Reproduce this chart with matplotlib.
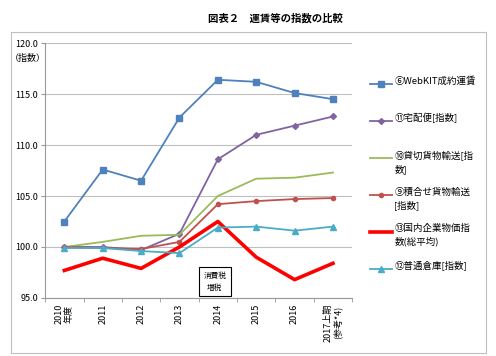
import matplotlib
matplotlib.use("Agg")
import matplotlib.pyplot as plt
from matplotlib.lines import Line2D
from matplotlib.patches import Rectangle

plt.rcParams['font.family'] = ['Noto Sans CJK JP', 'DejaVu Sans']

# -------------------------
# Data
# -------------------------
categories = ["2010\n年度", "2011", "2012", "2013", "2014", "2015", "2016", "2017上期\n(参考*4)"]
webkit = [102.5, 107.6, 106.5, 112.7, 116.4, 116.2, 115.1, 114.5]
takuhai = [100.0, 100.0, 99.7, 101.3, 108.6, 111.0, 111.9, 112.8]
kashikiri = [100.0, 100.5, 101.1, 101.2, 105.0, 106.7, 106.8, 107.3]
tsumiawase = [100.0, 99.9, 99.8, 100.5, 104.2, 104.5, 104.7, 104.8]
kigyo_bukka = [97.7, 98.9, 97.9, 100.0, 102.5, 99.0, 96.8, 98.4]
soko = [99.9, 99.9, 99.6, 99.4, 101.9, 102.0, 101.6, 102.0]

labels = ["⑥WebKIT成約運賃", "⑪宅配便[指数]", "⑩貸切貨物輸送[指\n数]",
          "⑨積合せ貨物輸送\n[指数]", "⑬国内企業物価指\n数(総平均)", "⑫普通倉庫[指数]"]

styles = [
    dict(color="#4F81BD", lw=1.3, marker="s", ms=5),
    dict(color="#8064A2", lw=1.3, marker="D", ms=3),
    dict(color="#9BBB59", lw=1.3, marker=None, ms=0),
    dict(color="#C0504D", lw=1.3, marker="o", ms=3),
    dict(color="#FF0000", lw=2.6, marker=None, ms=0),
    dict(color="#4BACC6", lw=1.3, marker="^", ms=4.5),
]
series = [webkit, takuhai, kashikiri, tsumiawase, kigyo_bukka, soko]

# -------------------------
# Figure
# -------------------------
fig = plt.figure(figsize=(4.96, 3.56), dpi=100)
fig.patches.append(Rectangle((0.022, 0.008), 0.958, 0.902, transform=fig.transFigure,
                             fill=False, edgecolor="#BFBFBF", lw=0.8))
fig.text(0.555, 0.948, "図表２　運賃等の指数の比較", ha="center", va="center",
         fontsize=7.5, fontweight="bold")

ax = fig.add_axes([0.091, 0.163, 0.619, 0.716])
x = list(range(len(categories)))
for vals, st in zip(series, styles):
    ax.plot(x, vals, color=st["color"], lw=st["lw"], marker=st["marker"],
            ms=st["ms"], zorder=3)

ax.set_xlim(-0.5, len(categories) - 0.5)
ax.set_ylim(95, 120)
ax.set_yticks([95, 100, 105, 110, 115, 120])
ax.set_yticklabels([f"{v:.1f}" for v in [95, 100, 105, 110, 115, 120]], fontsize=6.5)
ax.yaxis.grid(True, color="#BFBFBF", lw=0.8)
ax.set_axisbelow(True)

ax.set_xticks(x)
ax.set_xticklabels(categories, rotation=90, fontsize=6.5, va="top", linespacing=1.1)
ax.set_xticks([i - 0.5 for i in range(len(categories) + 1)], minor=True)
ax.tick_params(axis="x", which="major", length=0, pad=4)
ax.tick_params(axis="x", which="minor", length=3, color="#999999")
ax.tick_params(axis="y", length=3, color="#999999", pad=2)
for s in ["top", "right"]:
    ax.spines[s].set_visible(False)
for s in ["left", "bottom"]:
    ax.spines[s].set_color("#999999")

ax.text(-0.48, 118.5, "（指数）", ha="right", va="center", fontsize=6.5)

# 消費税増税 annotation
ax.text(3.92, 96.6, "消費税\n増税", ha="center", va="center", fontsize=5.5,
        linespacing=1.6,
        bbox=dict(boxstyle="square,pad=0.6", fc="white", ec="black", lw=0.8))

# -------------------------
# Legend (manual, Excel-like)
# -------------------------
y0, dy = 0.765, 0.104
for i, (lab, st) in enumerate(zip(labels, styles)):
    yy = y0 - i * dy
    fig.add_artist(Line2D([0.746, 0.768, 0.79], [yy, yy, yy], transform=fig.transFigure,
                          color=st["color"], lw=st["lw"], marker=st["marker"],
                          ms=st["ms"], markevery=[1] if st["marker"] else None))
    fig.text(0.795, yy + 0.021, lab, ha="left", va="top", fontsize=6.8,
             linespacing=1.45)

fig.savefig("out.png", dpi=100)
